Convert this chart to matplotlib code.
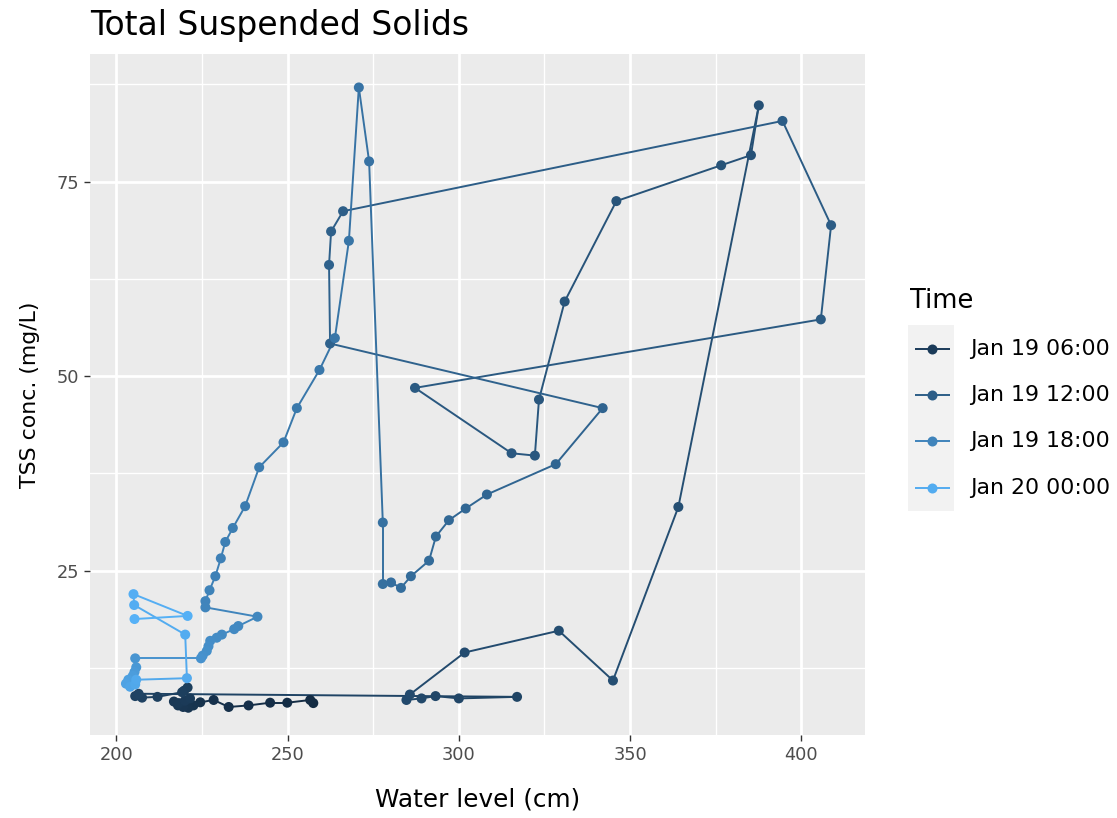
import numpy as np
import matplotlib
matplotlib.use("Agg")
import matplotlib.pyplot as plt
from matplotlib.collections import LineCollection

plt.rcParams['font.family'] = ['DejaVu Sans']

# ---- data (path order = time order) ----
water_level = [
    257.5, 256.6, 249.9, 244.9, 238.6, 232.8, 228.4, 224.5, 222.5, 221.0,
    219.5, 218.0, 216.8, 218.2, 220.0, 221.5, 219.8, 220.8, 219.2, 212.0,
    207.5, 205.5, 206.5, 317.0, 300.0, 293.2, 289.1, 284.7, 285.7,
    301.7, 329.2, 345.0, 364.1, 387.6, 385.3, 376.6, 346.0, 330.9, 323.4,
    322.2, 315.4, 287.2, 405.7, 408.7, 394.5,
    266.2, 262.7, 262.1, 262.4,
    342.0, 328.3, 308.2, 302.0, 297.1, 293.3, 291.3, 286.0, 283.1, 280.2,
    277.8, 277.8,
    273.8, 270.8, 267.9, 263.8,
    259.3, 252.7, 248.8, 241.7, 237.6, 234.0, 231.8, 230.5, 228.9, 227.2,
    226.0, 226.0,
    241.2, 235.6, 234.4, 230.8, 229.3, 227.4, 226.9, 226.4, 225.2, 224.7,
    205.5, 205.8, 205.3, 204.8, 203.5, 202.8, 204.0, 205.5, 205.8,
    220.6, 220.1, 205.2, 205.0, 220.8, 205.3,
]
tss = [
    8.0, 8.4, 8.05, 8.05, 7.7, 7.5, 8.4, 8.1, 7.7, 7.4,
    7.5, 7.7, 8.2, 8.0, 8.3, 8.6, 9.6, 10.0, 9.4, 8.8,
    8.7, 8.9, 9.2, 8.8, 8.6, 8.9, 8.6, 8.4, 9.1,
    14.5, 17.3, 10.9, 33.2, 84.8, 78.4, 77.1, 72.5, 59.6, 47.0,
    39.8, 40.1, 48.5, 57.3, 69.4, 82.8,
    71.2, 68.6, 64.3, 54.2,
    45.9, 38.7, 34.8, 33.0, 31.5, 29.4, 26.3, 24.3, 22.8, 23.5,
    23.3, 31.2,
    77.6, 87.1, 67.4, 54.9,
    50.8, 45.9, 41.5, 38.3, 33.3, 30.5, 28.7, 26.6, 24.3, 22.5,
    21.1, 20.3,
    19.1, 17.9, 17.5, 16.8, 16.4, 16.0, 15.3, 14.7, 14.1, 13.75,
    13.75, 12.6, 12.0, 11.5, 11.0, 10.5, 10.1, 10.4, 11.0,
    11.2, 16.8, 20.6, 22.0, 19.2, 18.8,
]
# hours since Jan 19 00:00
hours = [
    3.0, 3.2, 3.4, 3.6, 3.8, 4.0, 4.2, 4.4, 4.6, 4.8,
    5.0, 5.2, 5.4, 5.6, 5.8, 6.0, 6.2, 6.4, 6.6, 6.8,
    7.0, 7.2, 7.4, 7.6, 7.8, 8.0, 8.2, 8.4, 8.6,
    8.8, 9.0, 9.2, 9.4, 9.6, 9.8, 10.0, 10.2, 10.4, 10.6,
    10.8, 11.0, 11.2, 11.4, 11.6, 11.8,
    12.0, 12.2, 12.4, 12.6,
    12.8, 13.0, 13.2, 13.4, 13.6, 13.8, 14.0, 14.2, 14.4, 14.6,
    14.8, 15.0,
    15.2, 15.4, 15.6, 15.8,
    16.0, 16.2, 16.4, 16.6, 16.8, 17.0, 17.2, 17.4, 17.6, 17.8,
    18.0, 18.2,
    18.4, 18.6, 18.8, 19.0, 19.2, 19.4, 19.6, 19.8, 20.0, 20.2,
    20.6, 21.0, 21.4, 21.8, 22.2, 22.6, 23.0, 23.4, 23.6,
    23.8, 24.0, 24.2, 24.4, 24.6, 24.8,
]
legend_hours = [6, 12, 18, 24]
legend_labels = ["Jan 19 06:00", "Jan 19 12:00", "Jan 19 18:00", "Jan 20 00:00"]
x_ticks = [200, 250, 300, 350, 400]
y_ticks = [25, 50, 75]

# ---- ggplot-like Lab colour gradient (#132B43 -> #56B1F7) ----
WHITE = np.array([0.95047, 1.0, 1.08883])
M = np.array([[0.4124564, 0.3575761, 0.1804375],
              [0.2126729, 0.7151522, 0.0721750],
              [0.0193339, 0.1191920, 0.9503041]])
Minv = np.linalg.inv(M)

def hex2rgb(h):
    h = h.lstrip('#')
    return np.array([int(h[i:i + 2], 16) / 255 for i in (0, 2, 4)])

def rgb2lab(c):
    lin = np.where(c <= 0.04045, c / 12.92, ((c + 0.055) / 1.055) ** 2.4)
    xyz = M @ lin / WHITE
    d = 6 / 29
    f = np.where(xyz > d ** 3, np.cbrt(xyz), xyz / (3 * d * d) + 4 / 29)
    return np.array([116 * f[1] - 16, 500 * (f[0] - f[1]), 200 * (f[1] - f[2])])

def lab2rgb(lab):
    L, a, b = lab
    fy = (L + 16) / 116
    fx = fy + a / 500
    fz = fy - b / 200
    d = 6 / 29
    f = np.array([fx, fy, fz])
    xyz = np.where(f > d, f ** 3, 3 * d * d * (f - 4 / 29)) * WHITE
    lin = Minv @ xyz
    lin = np.clip(lin, 0, 1)
    c = np.where(lin <= 0.0031308, 12.92 * lin, 1.055 * lin ** (1 / 2.4) - 0.055)
    return np.clip(c, 0, 1)

LAB_LO = rgb2lab(hex2rgb('#132B43'))
LAB_HI = rgb2lab(hex2rgb('#56B1F7'))
hmin, hmax = min(hours), max(hours)

def colour(h):
    t = (h - hmin) / (hmax - hmin)
    return lab2rgb(LAB_LO + t * (LAB_HI - LAB_LO))

cols = [colour(h) for h in hours]

# ---- figure ----
W, H = 1117, 818
fig = plt.figure(figsize=(W / 100, H / 100), dpi=100)
L, R, T, B = 90, 865, 54, 735
ax = fig.add_axes([L / W, 1 - B / H, (R - L) / W, (B - T) / H])
ax.set_facecolor('#EBEBEB')
for s in ax.spines.values():
    s.set_visible(False)

ax.set_xlim(192.3, 418.6)
ax.set_ylim(3.9, 91.4)
ax.set_xticks(x_ticks)
ax.set_yticks(y_ticks)
ax.set_xticks([225, 275, 325, 375], minor=True)
ax.set_yticks([12.5, 37.5, 62.5, 87.5], minor=True)
ax.grid(which='major', color='white', linewidth=2.0)
ax.grid(which='minor', color='white', linewidth=1.0)
ax.set_axisbelow(True)
ax.tick_params(which='major', length=4.6, width=1.0, color='#333333',
               labelsize=12.8, labelcolor='#4D4D4D', pad=3.5)
ax.tick_params(which='minor', length=0)

pts = np.column_stack([water_level, tss])
segs = np.stack([pts[:-1], pts[1:]], axis=1)
lc = LineCollection(segs, colors=cols[:-1], linewidths=1.4, zorder=2,
                    capstyle='round')
ax.add_collection(lc)
ax.scatter(water_level, tss, s=52, c=cols, zorder=3, linewidths=0)

# title and axis titles
fig.text(L / W, 1 - 35 / H, "Total Suspended Solids", fontsize=23.8,
         ha='left', va='baseline', color='black')
fig.text((L + R) / 2 / W, 1 - 800 / H, "Water level (cm)", fontsize=17.8,
         ha='center', va='center', color='black')
fig.text(30 / W, 1 - (T + B) / 2 / H, "TSS conc. (mg/L)", fontsize=15.8,
         ha='center', va='center', rotation=90, color='black')

# legend
fig.text(910 / W, 1 - 301 / H, "Time", fontsize=18.5, ha='left', va='center')
key_top, key_h = 325.5, 46.3
lax = fig.add_axes([908 / W, 1 - (key_top + 4 * key_h) / H, 46 / W, 4 * key_h / H])
lax.set_facecolor('#F2F2F2')
for s in lax.spines.values():
    s.set_visible(False)
lax.set_xticks([])
lax.set_yticks([])
lax.set_xlim(0, 1)
lax.set_ylim(4, 0)
for i, (h, lab) in enumerate(zip(legend_hours, legend_labels)):
    c = colour(h)
    yc = i + 0.5
    lax.plot([0.15, 0.92], [yc, yc], color=c, linewidth=1.4, solid_capstyle='butt')
    lax.scatter([0.52], [yc], s=52, color=[c], linewidths=0, zorder=3)
    fig.text(970 / W, 1 - (key_top + (i + 0.5) * key_h) / H, lab, fontsize=15.8,
             ha='left', va='center', color='black')

fig.savefig('out.png', dpi=100, facecolor='white')
